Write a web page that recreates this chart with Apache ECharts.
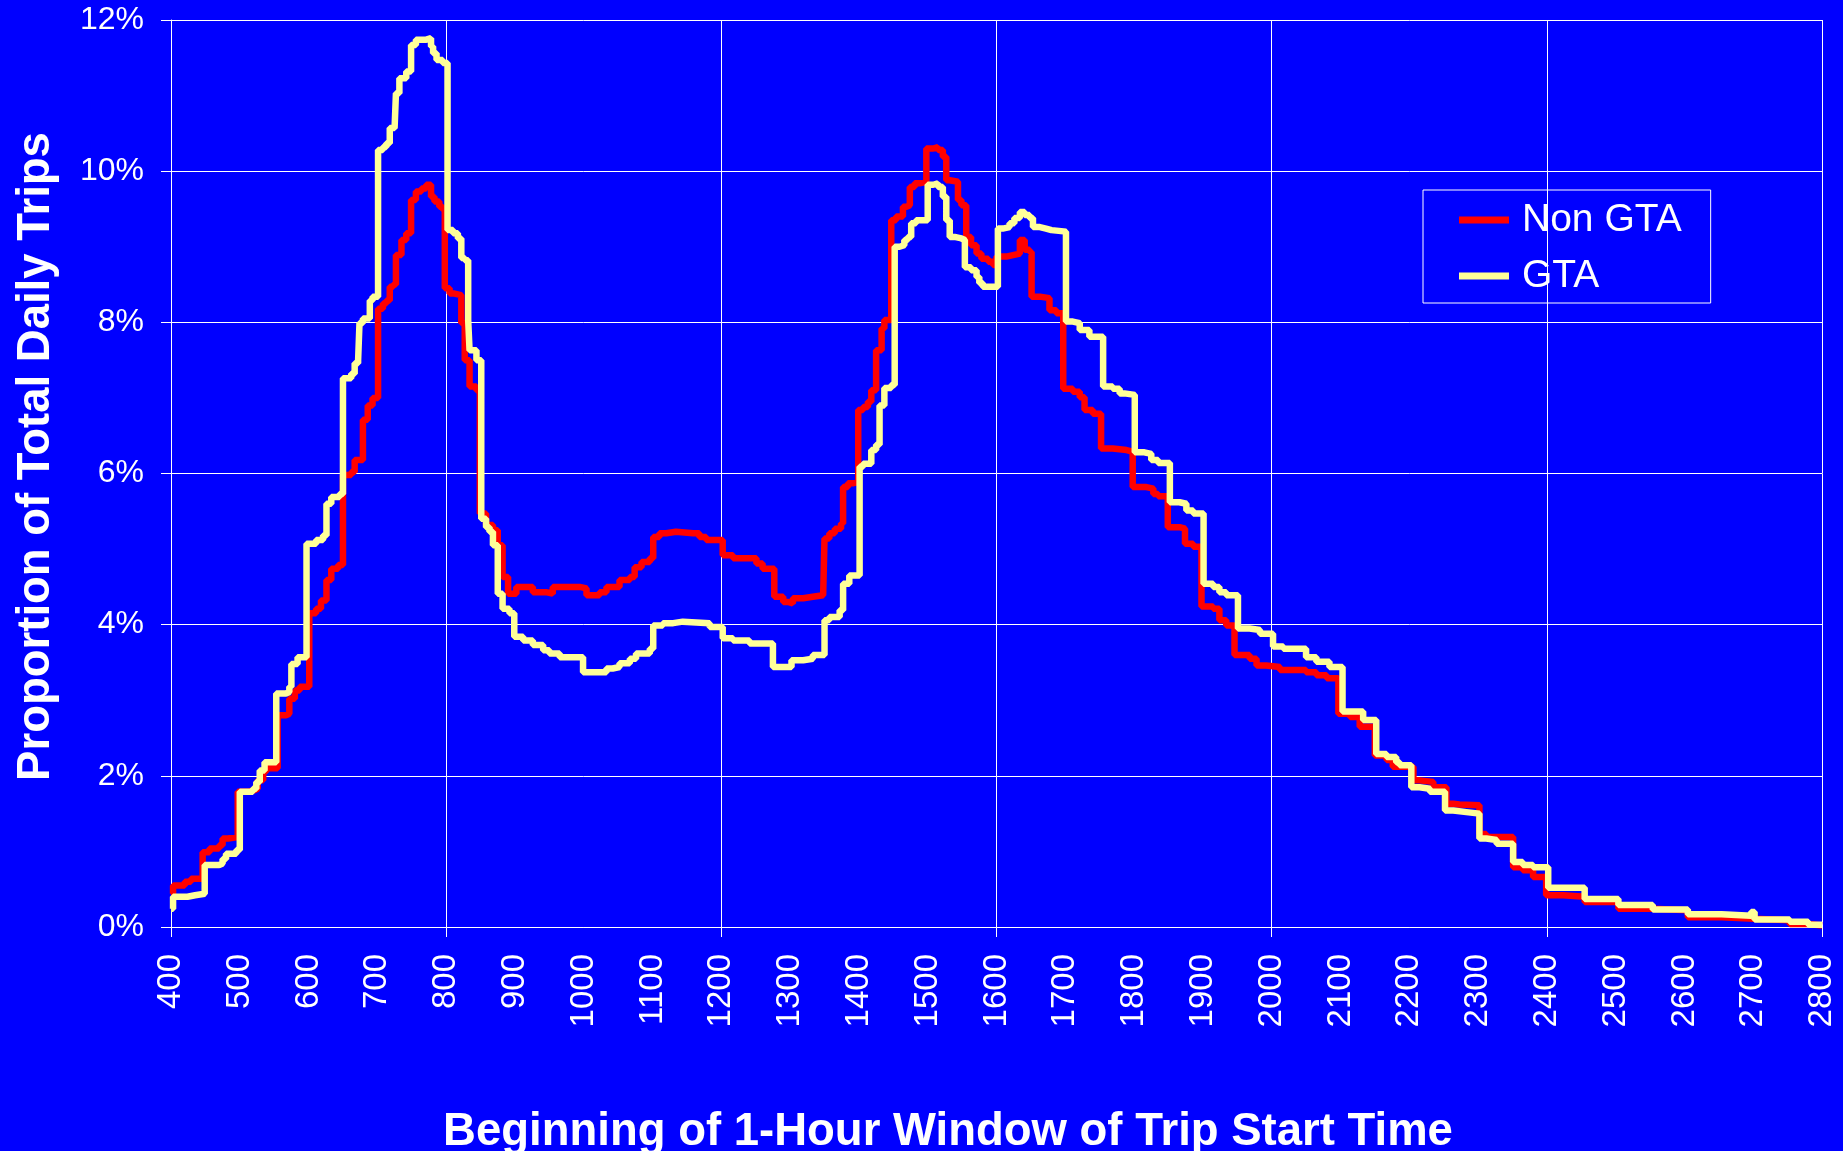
<!DOCTYPE html>
<html>
<head>
<meta charset="utf-8">
<title>Trip start time</title>
<script src="https://cdn.jsdelivr.net/npm/echarts@6/dist/echarts.min.js"></script>
<style>
  html, body { margin: 0; padding: 0; background: #0000ff; }
  #main { width: 1843px; height: 1151px; }
</style>
</head>
<body>
<div id="main"></div>
<script>
// start of 1-hour window (100 = one hour) and share of daily trips in %
var nonGtaTimes = [400,403,420,429,446,456,470,475,483,497,514,521,526,534,538,555,567,572,580,587,
  601,611,618,626,633,643,650,662,667,679,686,693,701,708,713,718,723,727,735,742,749,756,764,771,778,783,790,795,
  798,805,812,822,827,834,844,849,858,868,875,882,890,902,926,945,955,984,994,1004,1023,1033,1052,1067,1074,1084,1096,
  1101,1110,1120,1134,1159,1168,1178,1202,1217,1251,1260,1277,1290,1297,1304,1319,1333,1348,1350,1357,1365,1374,1377,
  1384,1391,1399,1406,1413,1418,1425,1433,1437,1447,1454,1464,1469,1474,1481,1488,1498,1508,1515,1522,1527,1532,1544,
  1549,1556,1563,1571,1578,1588,1595,1600,1614,1624,1634,1641,1648,1651,1663,1677,1687,1697,1711,1721,1728,1740,1752,
  1769,1789,1798,1818,1828,1835,1849,1866,1874,1886,1898,1915,1924,1934,1946,1968,1978,1992,2012,2050,2065,2080,2097,
  2114,2128,2150,2167,2176,2206,2215,2235,2254,2264,2273,2302,2312,2351,2365,2380,2399,2424,2455,2504,2554,2605,2654,
  2702,2753,2780,2800];
var nonGtaValues = [0.44,0.55,0.6,0.64,0.99,1.04,1.08,1.17,1.19,1.79,1.81,1.83,1.94,2.05,2.1,2.8,2.82,3.02,3.13,3.18,
  4.15,4.21,4.32,4.59,4.74,4.79,5.98,6.02,6.18,6.71,6.9,7.0,8.18,8.25,8.29,8.47,8.5,8.89,9.09,9.18,9.62,9.73,9.77,9.82,9.66,9.6,9.53,9.49,
  8.45,8.38,8.36,7.99,7.5,7.15,7.1,5.47,5.32,5.25,5.05,4.63,4.41,4.5,4.43,4.41,4.5,4.5,4.48,4.39,4.43,4.5,4.59,4.63,4.76,4.83,4.88,
  5.16,5.21,5.23,5.21,5.21,5.16,5.12,4.92,4.88,4.81,4.74,4.37,4.3,4.28,4.35,4.37,4.39,4.41,5.14,5.21,5.27,5.34,5.82,
  5.87,5.89,6.84,6.88,6.95,7.1,7.63,7.92,8.03,9.35,9.4,9.53,9.55,9.79,9.84,9.86,10.3,10.32,10.28,10.19,9.88,9.86,9.62,
  9.55,9.13,9.02,8.91,8.84,8.8,8.76,8.87,8.89,8.91,9.09,8.96,8.93,8.34,8.32,8.16,8.12,7.12,7.08,7.01,6.84,6.79,6.33,
  6.31,6.29,5.82,5.8,5.73,5.7,5.29,5.27,5.07,5.03,4.24,4.21,4.06,3.99,3.6,3.55,3.46,3.44,3.4,3.37,3.33,3.29,2.82,
  2.78,2.65,2.27,2.21,2.12,1.94,1.92,1.85,1.63,1.62,1.61,1.23,1.19,0.79,0.75,0.66,0.42,0.4,0.33,0.24,0.22,0.13,0.11,
  0.09,0.04,0.02,0.02];

var gtaTimes = [400,403,424,435,449,470,475,480,495,500,519,524,529,536,553,567,572,575,584,597,611,621,626,633,645,
  650,662,667,672,674,679,689,693,701,708,713,718,725,727,732,742,749,756,771,778,781,786,795,802,810,817,822,827,832,
  834,844,851,858,863,868,875,882,892,899,912,926,941,950,965,999,1033,1042,1052,1067,1076,1096,1101,1115,1130,1144,
  1183,1202,1217,1241,1275,1302,1319,1333,1350,1357,1372,1377,1386,1401,1406,1418,1425,1430,1437,1447,1452,1459,1466,
  1471,1476,1483,1500,1508,1515,1522,1527,1532,1539,1549,1554,1563,1571,1575,1580,1602,1609,1619,1626,1634,1641,1648,
  1653,1663,1672,1680,1701,1711,1721,1735,1755,1769,1779,1786,1801,1815,1825,1835,1852,1866,1876,1886,1901,1915,1924,
  1934,1951,1968,1983,2002,2017,2050,2065,2084,2103,2133,2152,2167,2181,2186,2203,2215,2230,2252,2264,2283,2302,2312,
  2327,2351,2365,2380,2402,2455,2504,2554,2605,2654,2697,2702,2753,2780,2800];
var gtaValues = [0.24,0.4,0.42,0.44,0.82,0.84,0.9,0.97,1.02,1.79,1.83,1.92,2.07,2.18,3.09,3.11,3.18,3.48,3.57,5.07,5.12,5.18,5.6,5.69,5.73,
  7.26,7.32,7.46,7.5,7.99,8.05,8.29,8.34,10.28,10.32,10.37,10.57,10.59,11.03,11.23,11.32,11.67,11.74,11.76,11.65,11.56,11.47,11.43,9.22,9.18,9.11,8.85,8.82,8.03,
  7.63,7.5,5.4,5.29,5.23,5.05,4.41,4.21,4.15,3.84,3.79,3.73,3.66,3.62,3.57,3.37,3.42,3.44,3.49,3.55,3.62,3.68,3.99,4.02,4.04,4.02,
  3.97,3.82,3.79,3.75,3.44,3.53,3.55,3.6,4.06,4.1,4.19,4.54,4.65,6.09,6.13,6.31,6.38,6.9,7.13,7.17,9.0,9.02,9.09,
  9.13,9.31,9.35,9.82,9.84,9.79,9.66,9.35,9.13,9.11,9.09,8.73,8.69,8.6,8.52,8.47,9.24,9.26,9.31,9.38,9.46,9.42,9.38,
  9.26,9.24,9.22,9.2,8.01,7.99,7.9,7.81,7.15,7.12,7.06,7.04,6.28,6.26,6.18,6.14,5.62,5.6,5.51,5.47,4.54,4.5,4.43,
  4.39,3.95,3.93,3.88,3.71,3.68,3.57,3.51,3.44,2.85,2.74,2.29,2.25,2.18,2.14,1.85,1.83,1.79,1.54,1.52,1.5,1.17,1.15,
  1.1,0.86,0.82,0.79,0.52,0.37,0.29,0.23,0.17,0.15,0.2,0.1,0.07,0.03,0.03];

var seriesNames = ['Non GTA', 'GTA'];
var seriesColors = ['#ff0000', '#ffff99'];

function pairs(xs, ys) {
  var out = [];
  for (var i = 0; i < xs.length; i++) out.push([xs[i], ys[i]]);
  return out;
}

var font = 'Liberation Sans, Arial, sans-serif';
var myChart = echarts.init(document.getElementById('main'));

var option = {
  backgroundColor: '#0000ff',
  animation: false,
  textStyle: { fontFamily: font, color: '#ffffff' },
  grid: { left: 171, right: 21, top: 20, bottom: 224, outerBoundsMode: 'none' },
  legend: {
    orient: 'vertical',
    left: 1423,
    top: 190,
    padding: [10, 29, 7, 36],
    borderColor: '#ffffff',
    borderWidth: 1,
    itemWidth: 50,
    itemHeight: 7,
    itemGap: 16,
    icon: 'rect',
    data: seriesNames,
    textStyle: { color: '#ffffff', fontSize: 39, fontFamily: font, lineHeight: 40, padding: [0, 0, 0, 8] }
  },
  xAxis: [{
    type: 'value',
    min: 400,
    max: 2800,
    interval: 100,
    position: 'bottom',
    name: 'Beginning of 1-Hour Window of Trip Start Time',
    nameLocation: 'middle',
    nameGap: 182,
    nameTextStyle: { color: '#ffffff', fontSize: 45.5, fontWeight: 'bold', fontFamily: font, padding: [0, 97, 0, 0] },
    axisLine: { show: true, lineStyle: { color: '#ffffff', width: 1 } },
    axisTick: { show: false },
    axisLabel: {
      rotate: 90, margin: 27, color: '#ffffff', fontSize: 33, fontFamily: font,
      formatter: function (v) { return String(v); }
    },
    splitLine: { show: false }
  }, {
    type: 'value',
    min: 400,
    max: 2800,
    interval: 400,
    position: 'bottom',
    axisLine: { show: false },
    axisTick: { show: true, length: 10, lineStyle: { color: '#ffffff', width: 1 } },
    axisLabel: { show: false },
    splitLine: { show: true, lineStyle: { color: '#ffffff', width: 1 } }
  }],
  yAxis: {
    type: 'value',
    min: 0,
    max: 12,
    interval: 2,
    name: 'Proportion of Total Daily Trips',
    nameLocation: 'middle',
    nameGap: 112,
    nameTextStyle: { color: '#ffffff', fontSize: 45.5, fontWeight: 'bold', fontFamily: font, padding: [0, 0, 0, 34] },
    axisLine: { show: true, lineStyle: { color: '#ffffff', width: 1 } },
    axisTick: { show: true, length: 10, lineStyle: { color: '#ffffff', width: 1 } },
    axisLabel: { formatter: '{value}%', margin: 27, color: '#ffffff', fontSize: 32, fontFamily: font },
    splitLine: { show: true, lineStyle: { color: '#ffffff', width: 1 } }
  },
  series: [{
    name: seriesNames[0],
    type: 'line',
    step: 'end',
    showSymbol: false,
    color: seriesColors[0],
    lineStyle: { color: seriesColors[0], width: 6.5 },
    data: pairs(nonGtaTimes, nonGtaValues)
  }, {
    name: seriesNames[1],
    type: 'line',
    step: 'end',
    showSymbol: false,
    color: seriesColors[1],
    lineStyle: { color: seriesColors[1], width: 6.5 },
    data: pairs(gtaTimes, gtaValues)
  }]
};
myChart.setOption(option);
</script>
</body>
</html>
